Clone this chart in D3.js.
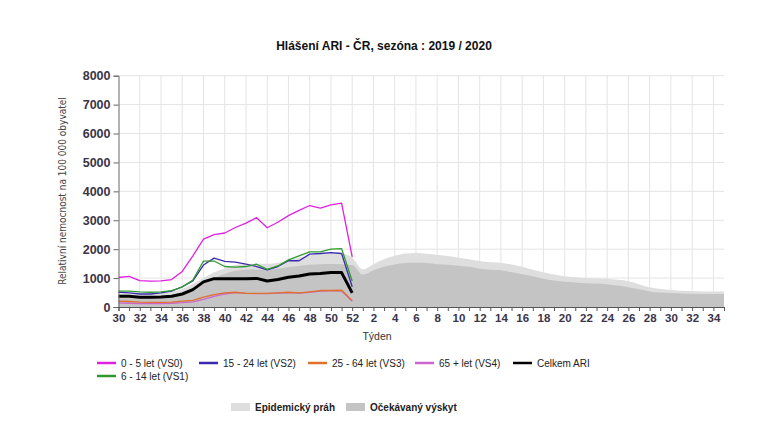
<!DOCTYPE html>
<html><head><meta charset="utf-8">
<script src="https://cdn.jsdelivr.net/npm/d3@7"></script>
<style>body{margin:0;background:#fff}svg{display:block}</style>
</head><body>
<svg id="c" width="784" height="436"></svg>
<script>
// Week categories (season 2019/2020): 30..52 then 1..35
const weeks = [30,31,32,33,34,35,36,37,38,39,40,41,42,43,44,45,46,47,48,49,50,51,52,
  1,2,3,4,5,6,7,8,9,10,11,12,13,14,15,16,17,18,19,20,21,22,23,24,25,26,27,28,29,30,31,32,33,34,35];
const weekLabels = [30,32,34,36,38,40,42,44,46,48,50,52,2,4,6,8,10,12,14,16,18,20,22,24,26,28,30,32,34];
const yTicks = [0,1000,2000,3000,4000,5000,6000,7000,8000];

// Reported weeks 30..52
const vs0 = [1020,1060,910,895,905,950,1230,1770,2350,2500,2560,2750,2900,3090,2740,2930,3160,3340,3510,3420,3530,3590,1730];
const vs1 = [550,550,520,510,520,570,690,930,1590,1590,1400,1380,1400,1480,1300,1420,1630,1770,1910,1910,2000,2020,900];
const vs2 = [510,490,450,450,490,550,700,900,1450,1690,1580,1550,1480,1400,1280,1400,1600,1600,1830,1850,1880,1850,700];
const vs3 = [200,190,170,160,160,170,200,230,340,430,490,510,470,470,470,490,510,490,520,570,570,580,220];
const vs4 = [140,130,120,115,120,130,150,180,260,370,450,500,470,460,460,480,500,480,510,550,560,560,200];
const celkem = [370,370,340,340,350,370,450,600,870,980,980,980,980,990,900,950,1030,1070,1140,1160,1190,1190,490];

// Whole season
const prah = [450,450,440,450,470,520,620,800,1000,1200,1330,1450,1490,1500,1500,1530,1620,1700,1780,1840,1870,1860,1700,
  1300,1480,1650,1770,1850,1870,1840,1800,1760,1700,1650,1590,1550,1530,1470,1390,1290,1200,1120,1060,1030,1000,990,980,940,890,790,680,620,590,560,550,540,540,540];
const ocekavany = [300,300,300,310,330,370,450,600,800,1000,1150,1250,1290,1300,1290,1320,1380,1420,1460,1480,1490,1480,1450,
  1120,1270,1390,1470,1520,1530,1520,1480,1460,1430,1390,1320,1290,1270,1200,1130,1060,980,920,870,850,820,810,790,740,680,610,540,500,480,470,460,450,450,450];

const seriesNames = ["0 - 5 let (VS0)","6 - 14 let (VS1)","15 - 24 let (VS2)","25 - 64 let (VS3)","65 + let (VS4)","Celkem ARI"];
const seriesColors = ["#e020e0","#2e9a2e","#3a2ab0","#e0702a","#cc66cc","#000000"];
const seriesData = [vs0,vs1,vs2,vs3,vs4,celkem];

const svg = d3.select("#c");
const L = 118.5, R = 724, T = 75.7, B = 307;
const x = d3.scaleLinear().domain([0, weeks.length-1]).range([L, R]);
const y = d3.scaleLinear().domain([0, 8000]).range([B, T]);
const font = "'Liberation Sans', Arial, sans-serif";

// index of labelled week positions
const labelIdx = [];
weeks.forEach((w,i)=>{ if (weekLabels.includes(w) && !(i>=23 && w===30 && false)) labelIdx.push(i); });
// restrict: labels every 2 weeks starting from first index
const tickIdx = d3.range(0, weeks.length-1, 2);

// grid
const g = svg.append("g");
g.selectAll("line.h").data(yTicks.slice(1)).join("line")
  .attr("x1", L).attr("x2", R).attr("y1", d=>y(d)).attr("y2", d=>y(d))
  .attr("stroke", "#e4e4e4").attr("stroke-width", 1);
g.selectAll("line.v").data(tickIdx.slice(1)).join("line")
  .attr("x1", d=>x(d)).attr("x2", d=>x(d)).attr("y1", T).attr("y2", B)
  .attr("stroke", "#e4e4e4").attr("stroke-width", 1);

// areas
const area = d3.area().x((d,i)=>x(i)).y0(y(0)).y1(d=>y(d)).curve(d3.curveMonotoneX);
svg.append("path").datum(prah).attr("d", area).attr("fill", "#dedede");
svg.append("path").datum(ocekavany).attr("d", area).attr("fill", "#c4c4c4");

// lines
const line = d3.line().x((d,i)=>x(i)).y(d=>y(d));
const order = [4,3,2,1,0,5];
order.forEach(k=>{
  svg.append("path").datum(seriesData[k]).attr("d", line)
    .attr("fill","none").attr("stroke", seriesColors[k])
    .attr("stroke-width", k===5 ? 3 : 1.3).attr("stroke-linejoin","round");
});

// y axis
const yAxis = d3.axisLeft(y).tickValues(yTicks).tickSize(5).tickPadding(3).tickFormat(d=>d);
const ya = svg.append("g").attr("transform", `translate(${L},0)`).call(yAxis);
ya.select(".domain").attr("stroke","#666");
ya.selectAll(".tick line").attr("stroke","#666");
ya.selectAll("text").attr("font-family", font).attr("font-size", 12.5).attr("font-weight","bold").attr("fill","#3a3448");

// x axis
const xAxis = d3.axisBottom(x).tickValues(d3.range(0, weeks.length)).tickSize(4).tickPadding(3)
  .tickFormat(i => (i % 2 === 0 && i < weeks.length-1) ? weeks[i] : "");
const xa = svg.append("g").attr("transform", `translate(0,${B})`).call(xAxis);
xa.select(".domain").attr("stroke","#555");
xa.selectAll(".tick line").attr("stroke","#555");
xa.selectAll("text").attr("font-family", font).attr("font-size", 11.5).attr("font-weight","bold").attr("fill","#3a3448");

// titles
svg.append("text").attr("x", 384).attr("y", 50).attr("text-anchor","middle")
  .attr("font-family", font).attr("font-size", 12).attr("font-weight","bold").attr("fill","#111")
  .text("Hlášení ARI - ČR, sezóna : 2019 / 2020");
svg.append("text").attr("x", 377).attr("y", 340).attr("text-anchor","middle")
  .attr("font-family", font).attr("font-size", 10.5).attr("fill","#333").text("Týden");
svg.append("text").attr("transform","translate(66,191) rotate(-90)").attr("text-anchor","middle")
  .attr("font-family", "'Liberation Sans Narrow', 'DejaVu Sans Condensed', Arial, sans-serif").attr("font-size", 10).attr("fill","#444")
  .text("Relativní nemocnost na 100 000 obyvatel");

// legend lines
const legPos = [[97,363],[97,376],[199,363],[308,363],[415,363],[513,363]];
seriesNames.forEach((n,k)=>{
  const [lx,ly] = legPos[k];
  svg.append("line").attr("x1",lx).attr("x2",lx+19).attr("y1",ly).attr("y2",ly)
    .attr("stroke", seriesColors[k]).attr("stroke-width", 2.5);
  svg.append("text").attr("x", lx+24).attr("y", ly+3.5)
    .attr("font-family", font).attr("font-size", 10).attr("fill","#222").text(n);
});

// area legend
const areaLeg = [["Epidemický práh","#dedede",231],["Očekávaný výskyt","#c4c4c4",346]];
areaLeg.forEach(([n,c,lx])=>{
  svg.append("rect").attr("x",lx).attr("y",403).attr("width",19).attr("height",8).attr("fill",c);
  svg.append("text").attr("x", lx+24).attr("y", 410.5)
    .attr("font-family", font).attr("font-size", 10).attr("font-weight","bold").attr("fill","#222").text(n);
});
</script>
</body></html>
